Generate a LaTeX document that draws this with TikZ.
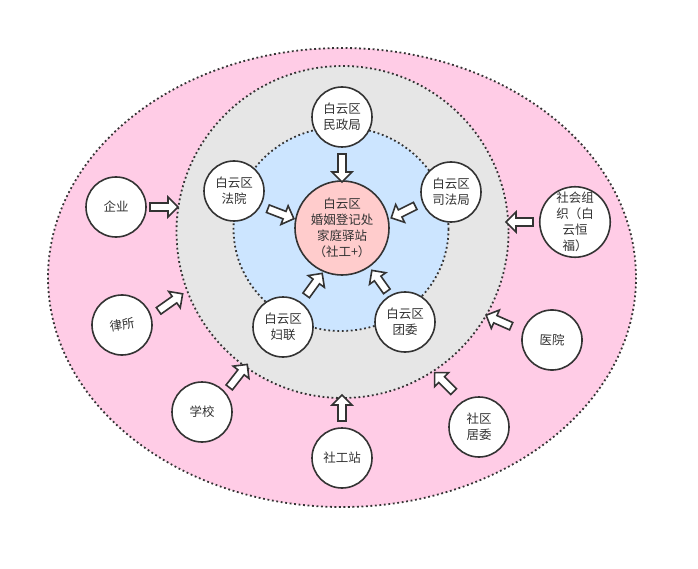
\documentclass[tikz,border=0pt]{standalone}
\usepackage{fontspec}
\newfontfamily\cjk{Noto Sans CJK SC}
\usetikzlibrary{shapes.arrows,calc}
\definecolor{pinkbg}{HTML}{FFCCE6}
\definecolor{graybg}{HTML}{E6E6E6}
\definecolor{bluebg}{HTML}{CCE5FF}
\definecolor{centerbg}{HTML}{FFCCCC}
\definecolor{ink}{HTML}{333333}
\tikzset{
  ring/.style={draw=ink, line width=1.8pt, dash pattern=on 1.8pt off 2.7pt},
  orgnode/.style={circle, draw=ink, fill=white, line width=1.6pt, minimum size=60pt,
    inner sep=0pt, align=center, text=ink, font=\cjk\fontsize{12.5}{16}\selectfont},
  blockarrow/.style={single arrow, draw=ink, fill=white, line width=1.6pt,
    inner xsep=0pt, inner ysep=3.2pt, single arrow head extend=6pt,
    single arrow tip angle=90, outer sep=0pt, anchor=center},
}
\newcommand\barrow[2]{\path let \p1=(#1), \p2=(#2),
  \n1={atan2(\y2-\y1,\x2-\x1)}, \n2={veclen(\x2-\x1,\y2-\y1)} in
  node[blockarrow, rotate=\n1, minimum height=\n2] at ($(\p1)!0.5!(\p2)$) {};}
\begin{document}
\begin{tikzpicture}[x=1pt,y=-1pt]
\useasboundingbox[fill=white] (0,0) rectangle (698,569);
% rings
\path[ring, fill=pinkbg] (342,277.5) ellipse [x radius=294, y radius=229.5];
\path[ring, fill=graybg] (342.5,232) circle [radius=166];
\path[ring, fill=bluebg] (341,229) ellipse [x radius=107.5, y radius=102];
% center
\node[orgnode, fill=centerbg, minimum size=94pt] (center) at (342,228)
  {白云区\\婚姻登记处\\家庭驿站\\（社工+）};
% inner ring
\node[orgnode] (mzj) at (342,117) {白云区\\民政局};
\node[orgnode] (fy)  at (234,191) {白云区\\法院};
\node[orgnode] (sfj) at (451,192) {白云区\\司法局};
\node[orgnode] (fl)  at (283,327) {白云区\\妇联};
\node[orgnode] (tw)  at (405,322) {白云区\\团委};
% outer ring
\node[orgnode] (qy)   at (116,207) {企业};
\node[orgnode, minimum size=68pt] (shzz) at (575,222) {社会组\\织（白\\云恒\\福）};
\node[orgnode, rotate=10] (ls) at (122,325) {律所};
\node[orgnode, rotate=-3] (yy) at (552,340) {医院};
\node[orgnode] (xx)   at (202,412) {学校};
\node[orgnode] (sgz)  at (342,458) {社工站};
\node[orgnode] (sq)   at (479,427) {社区\\居委};
% arrow end points
\coordinate (a1t) at (342,152); \coordinate (a1h) at (342,180);
\coordinate (a2t) at (266,208); \coordinate (a2h) at (292,218);
\coordinate (a3t) at (417,205); \coordinate (a3h) at (393,217);
\coordinate (a4t) at (305,297); \coordinate (a4h) at (321,275);
\coordinate (a5t) at (388,293); \coordinate (a5h) at (373,272);
\coordinate (b1t) at (148,207); \coordinate (b1h) at (176,207);
\coordinate (b2t) at (535,222); \coordinate (b2h) at (508,222);
\coordinate (b3t) at (157,312); \coordinate (b3h) at (181,295);
\coordinate (b4t) at (513,327); \coordinate (b4h) at (488,316);
\coordinate (b5t) at (228,389); \coordinate (b5h) at (246,366);
\coordinate (b6t) at (342,423); \coordinate (b6h) at (342,397);
\coordinate (b7t) at (455,393); \coordinate (b7h) at (436,374);
\barrow{a1t}{a1h}
\barrow{a2t}{a2h}
\barrow{a3t}{a3h}
\barrow{a4t}{a4h}
\barrow{a5t}{a5h}
\barrow{b1t}{b1h}
\barrow{b2t}{b2h}
\barrow{b3t}{b3h}
\barrow{b4t}{b4h}
\barrow{b5t}{b5h}
\barrow{b6t}{b6h}
\barrow{b7t}{b7h}
\end{tikzpicture}
\end{document}
